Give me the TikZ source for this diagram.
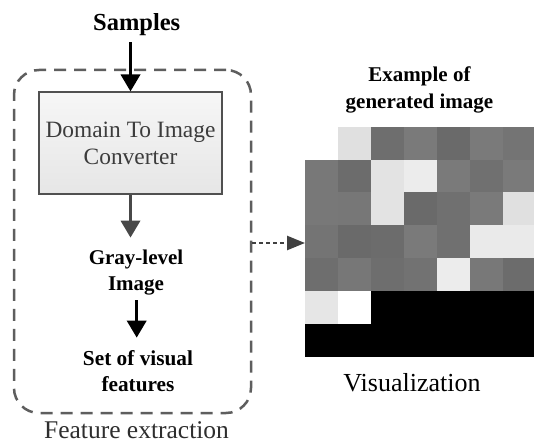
\documentclass[tikz,border=0pt]{standalone}
\usepackage{fontspec}
\setmainfont{Liberation Serif}
\usetikzlibrary{arrows.meta}
\definecolor{boxline}{HTML}{505050}
\definecolor{boxtop}{HTML}{F6F6F6}
\definecolor{boxbot}{HTML}{E6E6E6}
\definecolor{boxtext}{HTML}{3C3C3C}
\definecolor{framecol}{HTML}{5E5E5E}
\definecolor{arrowgray}{HTML}{484848}
\definecolor{dashcol}{HTML}{404040}
\definecolor{captioncol}{HTML}{2E2E2E}
\begin{document}
\begin{tikzpicture}[x=1pt,y=-1pt,
  txt/.style={inner sep=0pt, align=center},
  boldtxt/.style={txt, font=\fontsize{21}{26.5}\selectfont\bfseries},
  convbox/.style={draw=boxline, line width=2pt, top color=boxtop, bottom color=boxbot,
    minimum width=183pt, minimum height=102pt, inner sep=0pt, align=center,
    text=boxtext, font=\fontsize{23.4}{27}\selectfont},
  frame/.style={draw=framecol, line width=2.5pt, dash pattern=on 12pt off 8pt,
    rounded corners=25pt, minimum width=237pt, minimum height=343pt, inner sep=0pt},
  solidarrow/.style={line width=3.5pt, -{Triangle[width=19pt,length=17pt]}},
  dasharrow/.style={draw=dashcol, line width=2.5pt, dash pattern=on 4pt off 3pt,
    -{Triangle[width=14pt,length=18pt]}}
]
\clip (0,0) rectangle (534,443);
\fill[white] (0,0) rectangle (534,443);

% image grid
\foreach \r/\vals in {0/{-1,224,110,122,106,122,116},
                      1/{120,108,227,236,122,112,122},
                      2/{120,119,227,106,112,122,224},
                      3/{116,106,108,122,112,234,234},
                      4/{110,119,110,114,236,120,108},
                      5/{230,255,0,0,0,0,0},
                      6/{0,0,0,0,0,0,0}}{
  \foreach \v [count=\c from 0] in \vals {
    \ifnum\v<0\relax\else
      \fill[fill={rgb,255:red,\v;green,\v;blue,\v}] ({305+33*\c},{126.7+32.86*\r}) rectangle ++(33,32.86);
    \fi
  }
}

% frame
\node[frame] (fe) at (132.5,241.5) {};

% nodes
\node[txt, anchor=base, font=\fontsize{24.5}{29}\selectfont\bfseries] (samples) at (136.7,31) {Samples};
\node[convbox] (conv) at (130.5,143.5) {Domain To Image\\Converter};
\node[boldtxt] (gray) at (136,272.7) {Gray-level\\Image};
\node[txt, font=\fontsize{21.3}{26}\selectfont\bfseries] (set) at (138,371.5) {Set of visual\\features};
\node[txt, anchor=base, text=captioncol, font=\fontsize{25.5}{30}\selectfont] (cap) at (136.5,438.5) {Feature extraction};
\node[boldtxt, font=\fontsize{21}{26.6}\selectfont\bfseries] (example) at (419.5,90.2) {Example of\\generated image};
\node[txt, anchor=base, font=\fontsize{26}{30}\selectfont] (vis) at (412,391) {Visualization};
\coordinate (gridleft) at (305,243);

% connectors
\draw[solidarrow] ([yshift=-6pt]conv.north |- samples.south) -- (conv.north);
\draw[solidarrow, draw=arrowgray, fill=arrowgray, shorten >=12pt] (conv.south) -- (conv.south |- gray.north);
\draw[solidarrow, shorten <=4.5pt, shorten >=13pt] (gray.south -| 136.7,0) -- (set.north -| 136.7,0);
\draw[dasharrow] (fe.east |- gridleft) -- (gridleft);
\end{tikzpicture}
\end{document}
